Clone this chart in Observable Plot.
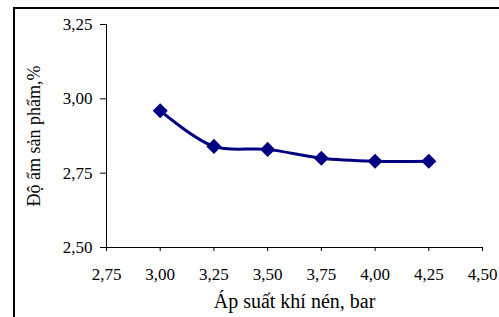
<!DOCTYPE html>
<html><head><meta charset="utf-8">
<script src="https://cdn.jsdelivr.net/npm/d3@7"></script>
<script src="https://cdn.jsdelivr.net/npm/@observablehq/plot@0.6"></script>
<style>
html,body{margin:0;padding:0;background:#fff;overflow:hidden;}
#wrap{position:relative;width:499px;height:317px;}
#box{position:absolute;left:13px;top:7px;width:600px;height:400px;border-left:2px solid #000;border-top:2px solid #000;box-sizing:border-box;pointer-events:none;}
#chart{position:absolute;left:0;top:0;}
</style></head>
<body>
<div id="wrap"><div id="chart"></div><div id="box"></div></div>
<script>
const pressure = [3.00, 3.25, 3.50, 3.75, 4.00, 4.25];
const moisture = [2.96, 2.84, 2.83, 2.80, 2.79, 2.79];
const xTicks = [2.75, 3.00, 3.25, 3.50, 3.75, 4.00, 4.25, 4.50];
const yTicks = [2.50, 2.75, 3.00, 3.25];
const xLabel = "Áp suất khí nén, bar";
const yLabel = "Độ ẩm sản phẩm,%";

const data = pressure.map((p, i) => ({p, m: moisture[i]}));
const fmt = d => d.toFixed(2).replace(".", ",");
const navy = "#000080";

const chart = Plot.plot({
  width: 499, height: 317,
  marginLeft: 106, marginRight: 17, marginTop: 24, marginBottom: 70,
  style: {fontFamily: "Liberation Serif, serif", fontSize: "17px", background: "transparent", color: "#000"},
  x: {domain: [2.75, 4.5]},
  y: {domain: [2.5, 3.25]},
  marks: [
    Plot.axisX({ticks: xTicks, tickFormat: fmt, tickSize: 4, tickPadding: 16, fontSize: 17,
      label: xLabel, labelAnchor: "center", labelArrow: "none", labelOffset: 60}),
    Plot.axisY({ticks: yTicks, tickFormat: fmt, tickSize: 6, tickPadding: 8, fontSize: 17,
      label: yLabel, labelAnchor: "center", labelArrow: "none", labelOffset: 79}),
    Plot.ruleX([xTicks[0]], {stroke: "#000", strokeWidth: 1}),
    Plot.ruleY([yTicks[0]], {stroke: "#000", strokeWidth: 1}),
    Plot.line(data, {x: "p", y: "m", stroke: navy, strokeWidth: 3, curve: "catmull-rom"}),
    Plot.dot(data, {x: "p", y: "m", symbol: "diamond2", r: 6.8, fill: navy, stroke: "none"})
  ]
});
const sel = d3.select(chart);
sel.selectAll("text").style("font-family", "'Liberation Serif', 'Times New Roman', serif").style("font-size", "17px");
sel.selectAll('[aria-label="x-axis label"] text').style("font-size", "20px");
sel.selectAll('[aria-label="y-axis label"] text').style("font-size", "18px");
document.getElementById("chart").appendChild(chart);
</script>
</body></html>
